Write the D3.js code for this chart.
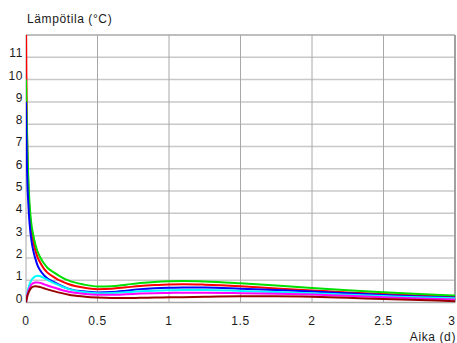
<!DOCTYPE html>
<html>
<head>
<meta charset="utf-8">
<script src="https://cdn.jsdelivr.net/npm/d3@7/dist/d3.min.js"></script>
<style>
  html, body { margin: 0; padding: 0; background: #fff; }
  svg { display: block; font-family: "Liberation Sans", Arial, sans-serif; }
  .lbl { font-size: 12px; letter-spacing: 0.6px; fill: #1a1a1a; }
</style>
</head>
<body>
<script>
// Time axis (days)
const time = [0, 0.003, 0.006, 0.01, 0.015, 0.02, 0.03, 0.04, 0.05, 0.065, 0.08, 0.1, 0.125, 0.15, 0.2, 0.25, 0.3, 0.4, 0.5, 0.6, 0.7, 0.8, 0.9, 1.0, 1.1, 1.25, 1.5, 1.75, 2.0, 2.25, 2.5, 2.75, 3.0];

// Temperature series (°C)
const seriesRed     = [13, 10, 8, 6.6, 5.4, 4.6, 3.7, 3.1, 2.75, 2.35, 2.05, 1.78, 1.52, 1.34, 1.12, 0.95, 0.82, 0.67, 0.6, 0.62, 0.68, 0.74, 0.78, 0.81, 0.82, 0.8, 0.73, 0.63, 0.54, 0.45, 0.38, 0.31, 0.26];
const seriesGreen   = [10, 9, 8, 6.9, 5.8, 5.0, 4.0, 3.4, 3.05, 2.62, 2.3, 2.02, 1.76, 1.56, 1.33, 1.13, 0.98, 0.81, 0.72, 0.73, 0.8, 0.87, 0.92, 0.95, 0.96, 0.94, 0.86, 0.76, 0.65, 0.55, 0.46, 0.38, 0.31];
const seriesBlue    = [9, 7.5, 6.3, 5.3, 4.6, 4.0, 3.2, 2.7, 2.35, 1.98, 1.68, 1.44, 1.23, 1.08, 0.9, 0.74, 0.61, 0.5, 0.45, 0.47, 0.53, 0.6, 0.64, 0.66, 0.67, 0.67, 0.62, 0.56, 0.49, 0.41, 0.34, 0.27, 0.22];
const seriesCyan    = [0, 0.15, 0.3, 0.45, 0.6, 0.72, 0.9, 1.02, 1.1, 1.17, 1.2, 1.18, 1.1, 1.01, 0.86, 0.72, 0.6, 0.47, 0.42, 0.43, 0.46, 0.5, 0.53, 0.55, 0.56, 0.56, 0.52, 0.47, 0.42, 0.35, 0.29, 0.23, 0.19];
const seriesMagenta = [0, 0.12, 0.24, 0.36, 0.48, 0.58, 0.72, 0.82, 0.87, 0.9, 0.9, 0.88, 0.82, 0.76, 0.66, 0.56, 0.48, 0.39, 0.35, 0.35, 0.37, 0.4, 0.42, 0.43, 0.44, 0.44, 0.42, 0.39, 0.36, 0.3, 0.24, 0.18, 0.13];
const seriesMaroon  = [0, 0.1, 0.2, 0.3, 0.4, 0.48, 0.6, 0.67, 0.71, 0.73, 0.72, 0.69, 0.64, 0.59, 0.5, 0.42, 0.35, 0.27, 0.22, 0.2, 0.2, 0.21, 0.22, 0.23, 0.24, 0.26, 0.28, 0.28, 0.26, 0.21, 0.16, 0.11, 0.06];

const series = [
  { values: seriesRed,     color: "#ff0000" },
  { values: seriesGreen,   color: "#00e000" },
  { values: seriesBlue,    color: "#0000ff" },
  { values: seriesCyan,    color: "#00ffff" },
  { values: seriesMagenta, color: "#ff00ff" },
  { values: seriesMaroon,  color: "#990000" }
];

const xTicks = [0, 0.5, 1, 1.5, 2, 2.5, 3];
const xTickLabels = ["0", "0.5", "1", "1.5", "2", "2.5", "3"];
const yTicks = [0, 1, 2, 3, 4, 5, 6, 7, 8, 9, 10, 11];

const W = 457, H = 343;
const plotLeft = 26, plotRight = 455, plotTop = 35, plotBottom = 302.5;

const x = d3.scaleLinear().domain([0, 3]).range([plotLeft, plotRight]);
const y = d3.scaleLinear().domain([0, 12]).range([plotBottom, plotTop]);

const svg = d3.select("body").append("svg").attr("width", W).attr("height", H);

// Clip region for the curves
svg.append("defs").append("clipPath").attr("id", "plot-clip")
  .append("rect").attr("x", plotLeft).attr("y", plotTop)
  .attr("width", plotRight - plotLeft).attr("height", plotBottom - plotTop);

// Horizontal grid lines
svg.append("g")
  .selectAll("line").data(yTicks.concat([12])).join("line")
  .attr("x1", plotLeft).attr("x2", plotRight)
  .attr("y1", d => y(d)).attr("y2", d => y(d))
  .attr("stroke", d => (d === 0 || d === 12 ? "#a8a8a8" : "#c8c8c8"))
  .attr("stroke-width", 1.5);

// Vertical grid lines
svg.append("g")
  .selectAll("line").data(xTicks).join("line")
  .attr("x1", d => x(d)).attr("x2", d => x(d))
  .attr("y1", plotTop).attr("y2", plotBottom)
  .attr("stroke", d => (d === 3 ? "#a0a0a0" : "#a8a8a8"))
  .attr("stroke-width", d => (d === 3 ? 2 : 1));

// Curves
const line = d3.line()
  .x((d, i) => x(time[i]))
  .y(d => y(d))
  .curve(d3.curveMonotoneX);

svg.append("g").attr("clip-path", "url(#plot-clip)")
  .selectAll("path").data(series).join("path")
  .attr("d", d => line(d.values))
  .attr("fill", "none")
  .attr("stroke", d => d.color)
  .attr("stroke-width", 2)
  .attr("stroke-linejoin", "round");

// Y tick labels (baseline on the grid line)
svg.append("g")
  .selectAll("text").data(yTicks).join("text")
  .attr("class", "lbl")
  .attr("x", plotLeft - 3)
  .attr("y", d => y(d))
  .attr("text-anchor", "end")
  .text(d => d);

// X tick labels, the last one kept inside the right edge
svg.append("g")
  .selectAll("text").data(xTicks).join("text")
  .attr("class", "lbl")
  .attr("x", d => Math.min(x(d), W - 5))
  .attr("y", 325)
  .attr("text-anchor", "middle")
  .text((d, i) => xTickLabels[i]);

// Axis titles
svg.append("text")
  .attr("class", "lbl")
  .attr("x", 27).attr("y", 23)
  .text("Lämpötila (°C)");

svg.append("text")
  .attr("class", "lbl")
  .attr("x", 456).attr("y", 341)
  .attr("text-anchor", "end")
  .text("Aika (d)");
</script>
</body>
</html>
